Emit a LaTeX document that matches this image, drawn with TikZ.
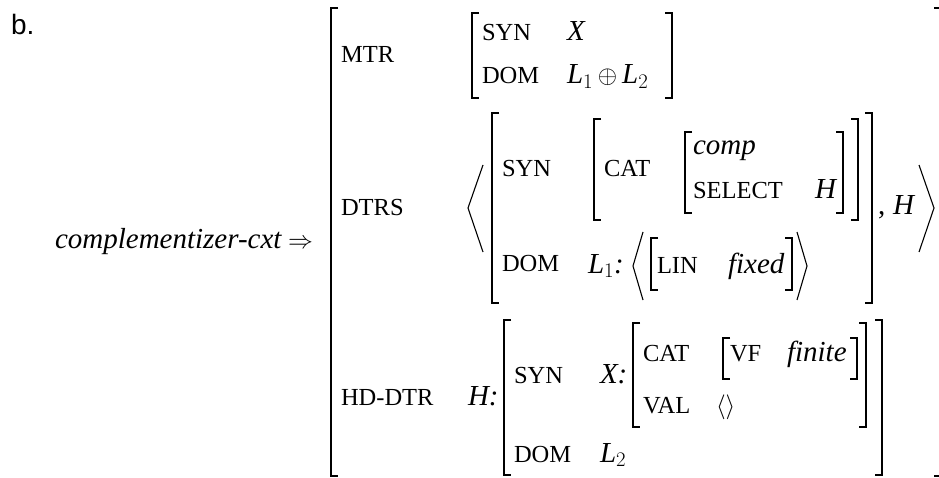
\documentclass[tikz,border=0pt]{standalone}
\usepackage{fontspec}
\setmainfont{Liberation Serif}
\newfontfamily\bsans{Liberation Sans}
\newcommand\fsz{\fontsize{24.5}{28}\selectfont}
\newcommand\fit{\fontsize{29}{34}\selectfont\itshape}
\newcommand\avmL[3]{\draw[brk] (#1+7,#2) -- (#1,#2) -- (#1,#3) -- (#1+7,#3);}
\newcommand\avmR[3]{\draw[brk] (#1-7,#2) -- (#1,#2) -- (#1,#3) -- (#1-7,#3);}
\begin{document}
\begin{tikzpicture}[x=1pt,y=-1pt,
  brk/.style={line width=1.4pt,line join=miter},
  ang/.style={line width=1.1pt,line join=miter},
  lab/.style={anchor=base west,inner sep=0pt,outer sep=0pt,font=\fsz},
  itl/.style={anchor=base west,inner sep=0pt,outer sep=0pt,font=\fit}]
\useasboundingbox (0,0) rectangle (939,478);
\clip (0,0) rectangle (939,478);
% label and lhs
\node[lab,font=\bsans\fontsize{28}{32}\selectfont] (b) at (11,35) {b.};
\node[itl] (lhs) at (55,249) {complementizer-cxt};
\node[itl,font=\fontsize{31}{34}\selectfont] (impl) at (288,249) {$\Rightarrow$};
% outer brackets
\avmL{331}{8}{476}
\avmR{941}{8}{476}
\node[lab] (mtr) at (341,63) {MTR};
\node[lab] (dtrs) at (341,216) {DTRS};
\node[lab] (hd) at (341,405) {HD-DTR};
% MTR value
\avmL{472}{13}{98}
\avmR{672}{13}{98}
\node[lab] (msyn) at (482,41) {SYN};
\node[itl] (mx) at (567,41) {X};
\node[lab] (mdom) at (482,84) {DOM};
\node[itl] (ml) at (567,84) {L$_1$\,$\oplus$\,L$_2$};
% DTRS list
\draw[ang] (483,165) -- (468,208) -- (483,252);
\draw[ang] (919,165) -- (934,208) -- (919,252);
\avmL{492}{113}{303}
\avmR{872}{113}{303}
\node[lab] (dsyn) at (502,177) {SYN};
\node[lab] (ddom) at (502,272) {DOM};
\avmL{594}{119}{220}
\avmR{858}{119}{220}
\node[lab] (dcat) at (604,177) {CAT};
\avmL{685}{132}{213}
\avmR{843}{132}{213}
\node[itl] (comp) at (693,155) {comp};
\node[lab] (sel) at (693,199) {SELECT};
\node[itl] (selh) at (815,199) {H};
\node[itl] (dl) at (588,273) {L$_1$:};
\draw[ang] (643,232) -- (633,266) -- (643,300);
\avmL{651}{238}{290}
\avmR{792}{238}{290}
\node[lab] (lin) at (657,273) {LIN};
\node[itl] (fix) at (728,273) {fixed};
\draw[ang] (797,232) -- (807,266) -- (797,300);
\node[itl,font=\fontsize{29}{34}\selectfont] (comma) at (878,215) {,};
\node[itl] (dh) at (893,215) {H};
% HD-DTR
\node[itl] (hh) at (468,405) {H:};
\avmL{504}{320}{475}
\avmR{882}{320}{475}
\node[lab] (hsyn) at (514,383) {SYN};
\node[lab] (hdom) at (514,462) {DOM};
\node[itl] (hx) at (600,383) {X:};
\node[itl] (hl) at (600,462) {L$_2$};
\avmL{633}{323}{427}
\avmR{866}{323}{427}
\node[lab] (hcat) at (643,361) {CAT};
\node[lab] (hval) at (643,413) {VAL};
\avmL{723}{338}{379}
\avmR{857}{338}{379}
\node[lab] (vf) at (730,361) {VF};
\node[itl] (fin) at (787,361) {finite};
\node[lab,font=\fontsize{23}{28}\selectfont] (empty) at (716,413) {$\langle\rangle$};
\end{tikzpicture}
\end{document}
